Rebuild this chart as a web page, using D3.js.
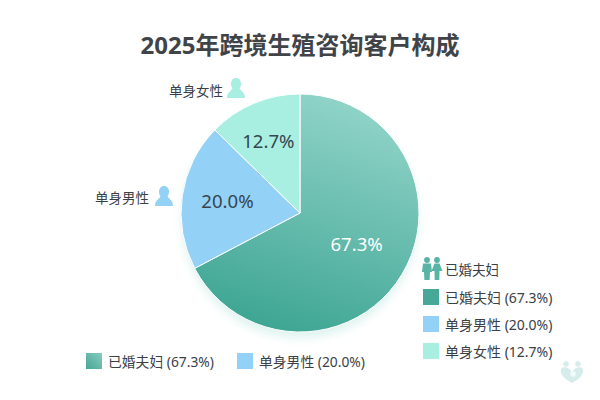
<!DOCTYPE html>
<html><head><meta charset="utf-8">
<script src="https://cdn.jsdelivr.net/npm/d3@7"></script>
<style>
html,body{margin:0;padding:0;background:#fff}
text{font-family:"Noto Sans","Noto Sans CJK SC",sans-serif}
</style></head><body>
<svg id="chart" width="600" height="400"></svg>
<script>
const chartTitle = "2025年跨境生殖咨询客户构成";
const categories = ["已婚夫妇", "单身男性", "单身女性"];
const shares = [67.3, 20.0, 12.7];
const sliceColors = ["url(#teal)", "#94d1f7", "#a8efe2"];
const swatchColors = ["#48a898", "#94d1f7", "#a8efe2"];
const labelColors = ["#ffffff", "#36454f", "#36454f"];
const bottomLegend = [0, 1];

const svg = d3.select("#chart");
const defs = svg.append("defs");
const teal = defs.append("linearGradient").attr("id", "teal")
  .attr("x1", 0.7).attr("y1", 0).attr("x2", 0.4).attr("y2", 1);
teal.append("stop").attr("offset", "0%").attr("stop-color", "#93d5ca");
teal.append("stop").attr("offset", "100%").attr("stop-color", "#3fa694");
const swatch = defs.append("linearGradient").attr("id", "swatchTeal")
  .attr("x1", 1).attr("y1", 0).attr("x2", 0).attr("y2", 1);
swatch.append("stop").attr("offset", "0%").attr("stop-color", "#86cbbf");
swatch.append("stop").attr("offset", "100%").attr("stop-color", "#46a795");
const glow = defs.append("filter").attr("id", "glow")
  .attr("x", "-20%").attr("y", "-20%").attr("width", "140%").attr("height", "140%");
glow.append("feGaussianBlur").attr("stdDeviation", 5);

svg.append("rect").attr("width", 600).attr("height", 400).attr("fill", "#fff");

svg.append("text").attr("x", 300).attr("y", 54).attr("text-anchor", "middle")
  .attr("font-size", 24).attr("font-weight", 700).attr("fill", "#404448").text(chartTitle);

const cx = 300, cy = 213, radius = 119;
const pie = d3.pie().sort(null).value(d => d)(shares);
const arc = d3.arc().innerRadius(0).outerRadius(radius);
const labelArc = d3.arc().innerRadius(radius * 0.62).outerRadius(radius * 0.62);
const plot = svg.append("g").attr("transform", `translate(${cx},${cy})`);

// Soft halo under the lower part of the disc
plot.append("circle").attr("r", radius - 1).attr("cy", 7)
  .attr("fill", "#8fd8ca").attr("opacity", 0.3).attr("filter", "url(#glow)");

plot.selectAll("path.slice").data(pie).join("path").attr("class", "slice")
  .attr("d", arc).attr("fill", (d, i) => sliceColors[i])
  .attr("stroke", "#fff").attr("stroke-width", 1);

const labelOffsets = [[-6.5, -7.5], [0.5, -2], [-3, -4.5]];
plot.selectAll("text.pct").data(pie).join("text").attr("class", "pct")
  .attr("x", (d, i) => labelArc.centroid(d)[0] + labelOffsets[i][0])
  .attr("y", (d, i) => labelArc.centroid(d)[1] + labelOffsets[i][1])
  .attr("text-anchor", "middle").attr("dominant-baseline", "central")
  .attr("font-size", 18.6).attr("fill", (d, i) => labelColors[i])
  .text(d => d.data.toFixed(1) + "%");

// Person glyph: head and shoulders
function person(x, y, color) {
  const g = svg.append("g").attr("transform", `translate(${x},${y})`).attr("fill", color);
  g.append("ellipse").attr("cx", 0).attr("cy", -4).attr("rx", 5).attr("ry", 6.2);
  g.append("path").attr("d", "M-9,10 C-9,4 -5,3 -3,0 L3,0 C5,3 9,4 9,10 Z");
}
// Figure glyph for the couple
function figure(x, y, color, skirt) {
  const g = svg.append("g").attr("transform", `translate(${x},${y})`).attr("fill", color);
  g.append("circle").attr("cx", 0).attr("cy", -8).attr("r", 2.9);
  g.append("path").attr("d", skirt
    ? "M-2.5,-4.5 L2.5,-4.5 L5.5,3 L2.5,3 L2.3,12 L-2.3,12 L-2.5,3 L-5.5,3 Z"
    : "M-4,-4.5 L4,-4.5 L5,4 L3,4 L2.6,12 L-2.6,12 L-3,4 L-5,4 Z");
}

const sideLabels = [
  {i: 2, x: 223, y: 91},
  {i: 1, x: 149, y: 198}
];
svg.selectAll("text.side").data(sideLabels).join("text").attr("class", "side")
  .attr("x", d => d.x).attr("y", d => d.y).attr("text-anchor", "end")
  .attr("dominant-baseline", "central").attr("font-size", 13.5).attr("fill", "#3a4046")
  .text(d => categories[d.i]);
person(236, 88, "#a8efe2");
person(164, 196, "#94d1f7");

figure(427, 268, "#58b5a6", false);
figure(437, 268, "#58b5a6", true);
svg.append("text").attr("x", 445).attr("y", 270).attr("dominant-baseline", "central")
  .attr("font-size", 13.5).attr("fill", "#3a4046").text(categories[0]);

// Legend on the right
const rowY = d3.scalePoint().domain(d3.range(categories.length)).range([297, 351]);
const rows = svg.selectAll("g.row").data(categories).join("g").attr("class", "row")
  .attr("transform", (d, i) => `translate(423,${rowY(i)})`);
rows.append("rect").attr("y", -8).attr("width", 16).attr("height", 16)
  .attr("fill", (d, i) => swatchColors[i]);
rows.append("text").attr("x", 22).attr("dominant-baseline", "central")
  .attr("font-size", 14).attr("fill", "#3a4046")
  .text((d, i) => `${d} (${shares[i].toFixed(1)}%)`);

// Legend along the bottom
const bottomX = d3.scalePoint().domain(bottomLegend).range([86, 237]);
const items = svg.selectAll("g.item").data(bottomLegend).join("g").attr("class", "item")
  .attr("transform", i => `translate(${bottomX(i)},361)`);
items.append("rect").attr("y", -8).attr("width", 16).attr("height", 16)
  .attr("fill", i => i === 0 ? "url(#swatchTeal)" : swatchColors[i]);
items.append("text").attr("x", 22).attr("dominant-baseline", "central")
  .attr("font-size", 13.8).attr("fill", "#3a4046")
  .text(i => `${categories[i]} (${shares[i].toFixed(1)}%)`);

// Small emblem in the corner
const emblem = svg.append("g").attr("transform", "translate(572,371)").attr("fill", "#d6ecea");
emblem.append("circle").attr("cx", -6).attr("cy", -7).attr("r", 2.8);
emblem.append("circle").attr("cx", 6).attr("cy", -7).attr("r", 2.8);
emblem.append("path").attr("d", "M0,12 C-10,7 -12,1 -11,-2 C-9,-5 -3,-4 0,1 C3,-4 9,-5 11,-2 C12,1 10,7 0,12 Z");
emblem.append("circle").attr("cx", 1).attr("cy", 3).attr("r", 2.8).attr("fill", "#f2faf9");
</script>
</body></html>
